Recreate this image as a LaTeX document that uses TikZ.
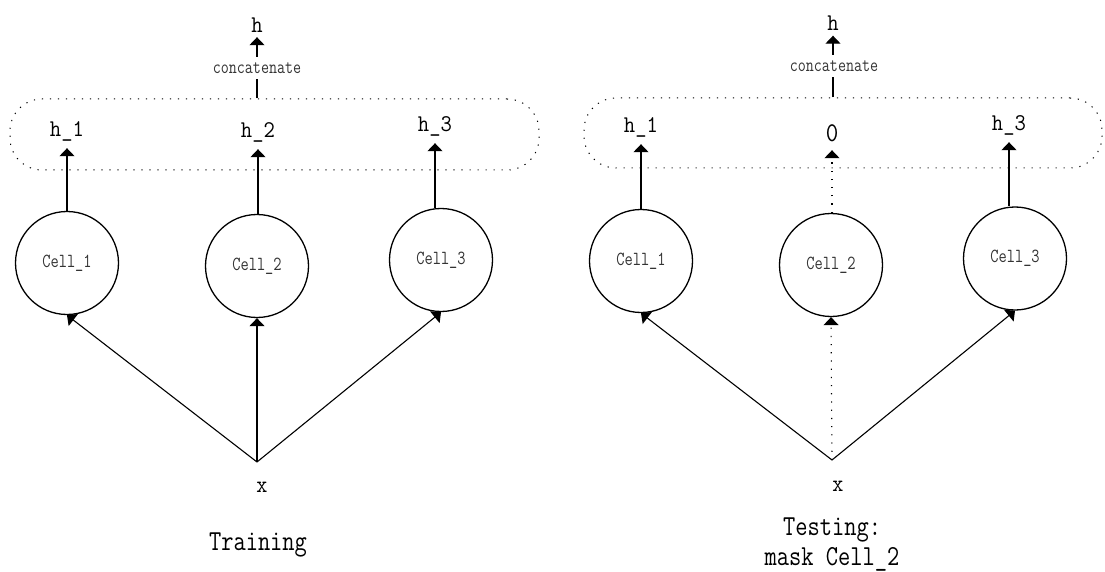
\documentclass[tikz,border=0pt]{standalone}
\usepackage{fontspec}
\usetikzlibrary{arrows.meta}
\newcommand{\narrowtxt}[2]{\scalebox{#1}[1]{#2}}
\tikzset{
  lab/.style={font=\fontsize{24}{28}\selectfont\ttfamily, inner sep=0pt, minimum height=34pt},
  toplab/.style={font=\fontsize{24}{28}\selectfont\ttfamily, inner sep=0pt, minimum height=24pt},
  catlab/.style={font=\fontsize{19.5}{22}\selectfont\ttfamily, text=black!80, inner sep=0pt, minimum height=22pt},
  cell/.style={circle, draw, line width=1.3pt, minimum size=103pt, inner sep=0pt, font=\fontsize{20}{24}\selectfont\ttfamily, text=black!80},
  xlab/.style={font=\fontsize{24}{28}\selectfont\ttfamily, inner sep=0pt},
  captext/.style={font=\fontsize{29}{30}\selectfont\ttfamily, inner sep=0pt, align=center},
  arr/.style={-{Triangle[width=15pt,length=8pt]}, line width=1.1pt},
  plainline/.style={line width=1.1pt},
  dotarr/.style={-{Triangle[width=15pt,length=8pt]}, line width=1.1pt, dash pattern=on 1.2pt off 7pt},
  grp/.style={draw, rounded corners=32pt, line width=1pt, dash pattern=on 1.2pt off 6.8pt},
}
\begin{document}
\begin{tikzpicture}[x=1pt,y=-1pt]
\useasboundingbox (0,0) rectangle (1105,572);

% ---------- Training (left) ----------
\node[grp, minimum width=529pt, minimum height=71pt] (gL) at (274.5,134.5) {};
\node[toplab] (hL) at (257,25) {\narrowtxt{0.92}{h}};
\node[catlab] (catL) at (257,68) {\narrowtxt{0.8}{concatenate}};
\draw[plainline] (gL.north -| catL) -- (catL.south);
\draw[arr] (catL.north) -- (hL.south);

\node[lab] (h1L) at (67,131) {\narrowtxt{0.92}{h\_1}};
\node[lab] (h2L) at (258,132) {\narrowtxt{0.92}{h\_2}};
\node[lab] (h3L) at (435,126) {\narrowtxt{0.92}{h\_3}};

\node[cell] (c1L) at (67,263) {\narrowtxt{0.8}{Cell\_1}};
\node[cell] (c2L) at (257,266) {\narrowtxt{0.8}{Cell\_2}};
\node[cell] (c3L) at (441,260) {\narrowtxt{0.8}{Cell\_3}};

\draw[arr] (c1L.north) -- (h1L.south);
\draw[arr] (c2L.north -| h2L) -- (h2L.south);
\draw[arr] (c3L.north -| h3L) -- (h3L.south);

\coordinate (jL) at (257,462);
\node[xlab] (xL) at (262,487) {\narrowtxt{0.9}{x}};
\draw[arr] (jL) -- (c1L.south);
\draw[arr] (jL) -- (c2L.south);
\draw[arr] (jL) -- (c3L.south);

\node[captext] (trn) at (258,545) {\narrowtxt{0.82}{Training}};

% ---------- Testing (right) ----------
\node[grp, minimum width=518pt, minimum height=70pt] (gR) at (843,133) {};
\node[toplab] (hR) at (833,23.5) {\narrowtxt{0.92}{h}};
\node[catlab] (catR) at (834,66) {\narrowtxt{0.8}{concatenate}};
\draw[plainline] (gR.north -| hR) -- (hR |- catR.south);
\draw[arr] (hR |- catR.north) -- (hR.south);

\node[lab] (h1R) at (641,127) {\narrowtxt{0.92}{h\_1}};
\node[lab, font=\fontsize{27}{30}\selectfont\ttfamily] (zR) at (832,133) {\narrowtxt{0.9}{0}};
\node[lab] (h3R) at (1009,125) {\narrowtxt{0.92}{h\_3}};

\node[cell] (c1R) at (641,261) {\narrowtxt{0.8}{Cell\_1}};
\node[cell] (c2R) at (831,265) {\narrowtxt{0.8}{Cell\_2}};
\node[cell] (c3R) at (1015,258.5) {\narrowtxt{0.8}{Cell\_3}};

\draw[arr] (c1R.north) -- (h1R.south);
\draw[dotarr] (c2R.north -| zR) -- (zR.south);
\draw[arr] (c3R.north -| h3R) -- (h3R.south);

\coordinate (jR) at (832,460);
\node[xlab] (xR) at (838,486) {\narrowtxt{0.9}{x}};
\draw[arr] (jR) -- (c1R.south);
\draw[dotarr] (jR) -- (c2R.south);
\draw[arr] (jR) -- (c3R.south);

\node[captext] (tst) at (832,545) {\narrowtxt{0.82}{Testing:}\\\narrowtxt{0.82}{mask Cell\_2}};
\end{tikzpicture}
\end{document}
